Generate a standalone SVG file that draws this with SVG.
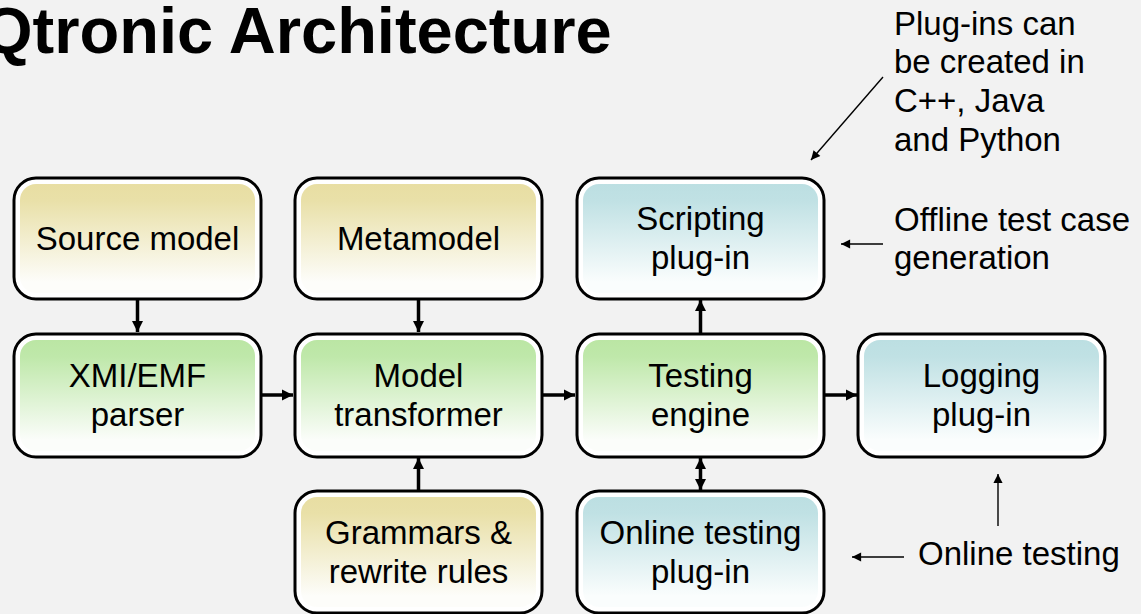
<svg xmlns="http://www.w3.org/2000/svg" width="1141" height="614" viewBox="0 0 1141 614">
  <defs>
    <linearGradient id="gTan" x1="0" y1="0" x2="0" y2="1">
      <stop offset="0" stop-color="#e8dea3"/>
      <stop offset="0.15" stop-color="#e9e0a8"/>
      <stop offset="0.9" stop-color="#fdfdfa"/>
    </linearGradient>
    <linearGradient id="gGreen" x1="0" y1="0" x2="0" y2="1">
      <stop offset="0" stop-color="#bbe6a4"/>
      <stop offset="0.15" stop-color="#bfe8aa"/>
      <stop offset="0.9" stop-color="#fbfdfa"/>
    </linearGradient>
    <linearGradient id="gBlue" x1="0" y1="0" x2="0" y2="1">
      <stop offset="0" stop-color="#bcdfe2"/>
      <stop offset="0.15" stop-color="#c0e1e4"/>
      <stop offset="0.9" stop-color="#fafdfd"/>
    </linearGradient>
    <marker id="ahThick" viewBox="0 0 10 10" refX="10" refY="5" markerWidth="3.2" markerHeight="3.6" orient="auto" markerUnits="strokeWidth">
      <path d="M0,0 L10,5 L0,10 Z" fill="#000"/>
    </marker>
    <marker id="ahThickS" viewBox="0 0 10 10" refX="0" refY="5" markerWidth="3.2" markerHeight="3.6" orient="auto" markerUnits="strokeWidth">
      <path d="M10,0 L0,5 L10,10 Z" fill="#000"/>
    </marker>
    <marker id="ahThin" viewBox="0 0 10 10" refX="10" refY="5" markerWidth="8" markerHeight="6.5" orient="auto" markerUnits="strokeWidth">
      <path d="M0,0 L10,5 L0,10 Z" fill="#000"/>
    </marker>
  </defs>
  <style>
    .outer { fill: #ffffff; stroke: #000; stroke-width: 3; }
    .lbl { font-family: "Liberation Sans", Arial, sans-serif; font-size: 33px; fill: #000; text-anchor: middle; }
    .ann { font-family: "Liberation Sans", Arial, sans-serif; font-size: 33px; fill: #000; }
    .title { font-family: "Liberation Sans", Arial, sans-serif; font-size: 65px; font-weight: bold; fill: #000; }
    .thick { stroke: #000; stroke-width: 3.5; fill: none; }
    .thin { stroke: #000; stroke-width: 1.4; fill: none; }
  </style>
  <rect x="0" y="0" width="1141" height="614" fill="#f2f2f2"/>

  <text class="title" x="-18" y="53">Qtronic Architecture</text>

  <g id="source-model">
    <rect class="outer" x="14" y="178" width="247" height="121" rx="22"/>
    <rect x="20" y="184" width="235" height="109" rx="16" fill="url(#gTan)"/>
    <text class="lbl" x="137.5" y="250">Source model</text>
  </g>
  <g id="metamodel">
    <rect class="outer" x="295" y="178" width="247" height="121" rx="22"/>
    <rect x="301" y="184" width="235" height="109" rx="16" fill="url(#gTan)"/>
    <text class="lbl" x="418.5" y="250">Metamodel</text>
  </g>
  <g id="scripting-plugin">
    <rect class="outer" x="577" y="178" width="247" height="121" rx="22"/>
    <rect x="583" y="184" width="235" height="109" rx="16" fill="url(#gBlue)"/>
    <text class="lbl" x="700.5" y="230">Scripting</text>
    <text class="lbl" x="700.5" y="269">plug-in</text>
  </g>
  <g id="xmi-parser">
    <rect class="outer" x="14" y="334" width="247" height="123" rx="22"/>
    <rect x="20" y="340" width="235" height="111" rx="16" fill="url(#gGreen)"/>
    <text class="lbl" x="137.5" y="387">XMI/EMF</text>
    <text class="lbl" x="137.5" y="426">parser</text>
  </g>
  <g id="model-transformer">
    <rect class="outer" x="295" y="334" width="247" height="123" rx="22"/>
    <rect x="301" y="340" width="235" height="111" rx="16" fill="url(#gGreen)"/>
    <text class="lbl" x="418.5" y="387">Model</text>
    <text class="lbl" x="418.5" y="426">transformer</text>
  </g>
  <g id="testing-engine">
    <rect class="outer" x="577" y="334" width="247" height="123" rx="22"/>
    <rect x="583" y="340" width="235" height="111" rx="16" fill="url(#gGreen)"/>
    <text class="lbl" x="700.5" y="387">Testing</text>
    <text class="lbl" x="700.5" y="426">engine</text>
  </g>
  <g id="logging-plugin">
    <rect class="outer" x="858" y="334" width="247" height="123" rx="22"/>
    <rect x="864" y="340" width="235" height="111" rx="16" fill="url(#gBlue)"/>
    <text class="lbl" x="981.5" y="387">Logging</text>
    <text class="lbl" x="981.5" y="426">plug-in</text>
  </g>
  <g id="grammars">
    <rect class="outer" x="295" y="491" width="247" height="122" rx="22"/>
    <rect x="301" y="497" width="235" height="110" rx="16" fill="url(#gTan)"/>
    <text class="lbl" x="418.5" y="544">Grammars &amp;</text>
    <text class="lbl" x="418.5" y="583">rewrite rules</text>
  </g>
  <g id="online-testing-plugin">
    <rect class="outer" x="577" y="491" width="247" height="122" rx="22"/>
    <rect x="583" y="497" width="235" height="110" rx="16" fill="url(#gBlue)"/>
    <text class="lbl" x="700.5" y="544">Online testing</text>
    <text class="lbl" x="700.5" y="583">plug-in</text>
  </g>

  <g id="annotations">
    <text class="ann" x="894" y="35">Plug-ins can</text>
    <text class="ann" x="894" y="73">be created in</text>
    <text class="ann" x="894" y="112">C++, Java</text>
    <text class="ann" x="894" y="151">and Python</text>
    <text class="ann" x="894" y="231">Offline test case</text>
    <text class="ann" x="894" y="269">generation</text>
    <text class="ann" x="918" y="565">Online testing</text>
  </g>

  <g id="connectors">
    <line class="thick" x1="137.5" y1="300" x2="137.5" y2="332" marker-end="url(#ahThick)"/>
    <line class="thick" x1="418.5" y1="300" x2="418.5" y2="332" marker-end="url(#ahThick)"/>
    <line class="thick" x1="262" y1="395" x2="293" y2="395" marker-end="url(#ahThick)"/>
    <line class="thick" x1="543" y1="395" x2="575" y2="395" marker-end="url(#ahThick)"/>
    <line class="thick" x1="825" y1="395" x2="857" y2="395" marker-end="url(#ahThick)"/>
    <line class="thick" x1="418.5" y1="490" x2="418.5" y2="458" marker-end="url(#ahThick)"/>
    <line class="thick" x1="700.5" y1="333" x2="700.5" y2="300" marker-end="url(#ahThick)"/>
    <line class="thick" x1="700.5" y1="458" x2="700.5" y2="490" marker-start="url(#ahThickS)" marker-end="url(#ahThick)"/>
    <line class="thin" x1="883" y1="77" x2="811" y2="160" marker-end="url(#ahThin)"/>
    <line class="thin" x1="883" y1="244" x2="841" y2="244" marker-end="url(#ahThin)"/>
    <line class="thin" x1="904" y1="557" x2="852" y2="557" marker-end="url(#ahThin)"/>
    <line class="thin" x1="998" y1="526" x2="998" y2="474" marker-end="url(#ahThin)"/>
  </g>
</svg>
